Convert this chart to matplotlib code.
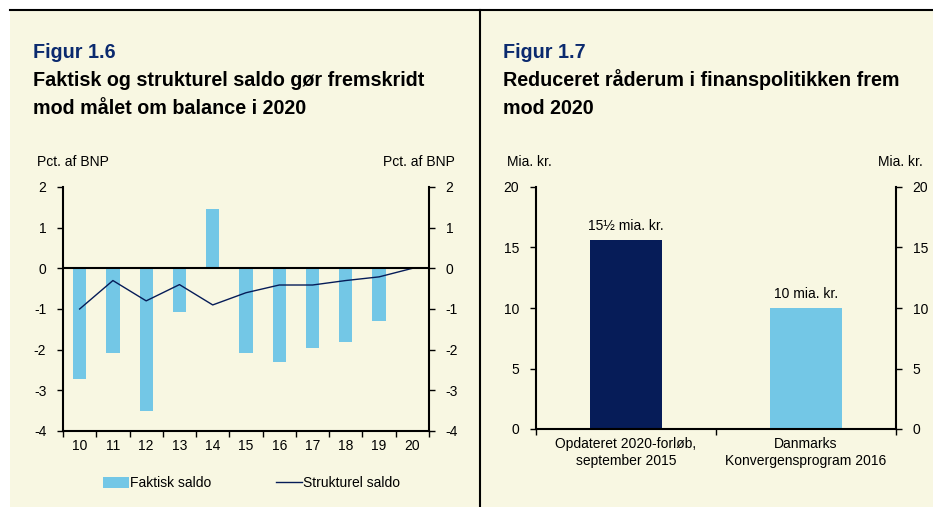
import numpy as np
import matplotlib.pyplot as plt
from matplotlib.patches import Rectangle
from matplotlib.lines import Line2D

plt.rcParams['font.family'] = ['Liberation Sans', 'DejaVu Sans']
plt.rcParams['axes.unicode_minus'] = False

# Figur 1.6
years = ["10", "11", "12", "13", "14", "15", "16", "17", "18", "19", "20"]
faktisk = [-2.73, -2.07, -3.52, -1.07, 1.46, -2.07, -2.30, -1.95, -1.80, -1.30, np.nan]
strukturel = [-1.0, -0.30, -0.80, -0.40, -0.90, -0.60, -0.41, -0.41, -0.30, -0.21, 0.0]

# Figur 1.7
kategorier = ["Opdateret 2020-forløb,\nseptember 2015", "Danmarks\nKonvergensprogram 2016"]
raaderum = [15.6, 10.0]
raaderum_tekst = ["15½ mia. kr.", "10 mia. kr."]

BG = "#f8f7e2"
LIGHT = "#73c7e6"
NAVY = "#061c58"
TITLE = "#0b2a6e"
FS = 10

W, H = 933, 507
fig = plt.figure(figsize=(W / 100, H / 100), dpi=100)
fig.patch.set_facecolor("white")


def px(x0, y0, x1, y1):
    # pixel box (top-left origin) -> figure fraction rect
    return [x0 / W, 1 - y1 / H, (x1 - x0) / W, (y1 - y0) / H]


fig.patches.append(Rectangle((10 / W, 0), 1 - 10 / W, 1 - 10 / H,
                             transform=fig.transFigure, facecolor=BG,
                             edgecolor="none", zorder=-10))
fig.lines.append(Line2D([10 / W, 1], [1 - 10 / H, 1 - 10 / H],
                        transform=fig.transFigure, color="black", lw=1.5, zorder=-5))
fig.lines.append(Line2D([480 / W, 480 / W], [0, 1 - 10 / H],
                        transform=fig.transFigure, color="black", lw=1.5, zorder=-5))

# titles
for x0, fig_no, lines in [(33, "Figur 1.6", ["Faktisk og strukturel saldo gør fremskridt",
                                              "mod målet om balance i 2020"]),
                          (503, "Figur 1.7", ["Reduceret råderum i finanspolitikken frem",
                                              "mod 2020"])]:
    fig.text(x0 / W, 1 - 58 / H, fig_no, color=TITLE, fontsize=14.2,
             fontweight="bold", va="baseline")
    for i, t in enumerate(lines):
        fig.text(x0 / W, 1 - (86 + i * 28) / H, t, color="black", fontsize=14.2,
                 fontweight="bold", va="baseline")


def style_axes(ax):
    ax.set_facecolor("none")
    ax.spines["top"].set_visible(False)
    for s in ["left", "right", "bottom"]:
        ax.spines[s].set_linewidth(1.5)
    ax.tick_params(axis="y", which="major", left=True, right=True,
                   labelleft=True, labelright=True, direction="out",
                   length=4, width=1, labelsize=FS, pad=8)


# ---- left chart
ax1 = fig.add_axes(px(63, 187, 429, 431))
style_axes(ax1)
pos = np.arange(len(years)) + 0.5
b1 = ax1.bar(pos, faktisk, width=0.4, color=LIGHT, label="Faktisk saldo", zorder=2)
l1, = ax1.plot(pos, strukturel, color=NAVY, lw=1, label="Strukturel saldo", zorder=3)
ax1.axhline(0, color="black", lw=1.5, zorder=4)
ax1.set_xlim(0, len(years))
ax1.set_ylim(-4, 2)
ax1.set_yticks(range(-4, 3))
ax1.set_xticks(np.arange(len(years) + 1))
ax1.set_xticklabels([])
ax1.set_xticks(pos, minor=True)
ax1.set_xticklabels(years, minor=True)
ax1.tick_params(axis="x", which="major", direction="out", length=4, width=1)
ax1.tick_params(axis="x", which="minor", length=0, labelsize=FS, pad=6)
fig.text(37 / W, 1 - 166 / H, "Pct. af BNP", fontsize=FS, va="baseline")
fig.text(455 / W, 1 - 166 / H, "Pct. af BNP", fontsize=FS, va="baseline", ha="right")
ax1.legend(handles=[b1, l1], loc="center", bbox_to_anchor=(0.515, -0.215), ncol=2,
           frameon=False, fontsize=FS, handlelength=1.9, handleheight=0.8,
           handletextpad=0.1, columnspacing=4.6, borderpad=0)

# ---- right chart
ax2 = fig.add_axes(px(536, 187, 896, 429))
style_axes(ax2)
pos2 = np.arange(len(kategorier)) + 0.5
bars = ax2.bar(pos2, raaderum, width=0.4, color=[NAVY, LIGHT], zorder=2)
for b, t in zip(bars, raaderum_tekst):
    ax2.annotate(t, (b.get_x() + b.get_width() / 2, b.get_height()),
                 xytext=(0, 5), textcoords="offset points", ha="center",
                 va="bottom", fontsize=FS)
ax2.set_xlim(0, len(kategorier))
ax2.set_ylim(0, 20)
ax2.set_yticks(range(0, 21, 5))
ax2.set_xticks(np.arange(len(kategorier) + 1))
ax2.set_xticklabels([])
ax2.set_xticks(pos2, minor=True)
ax2.set_xticklabels(kategorier, minor=True)
ax2.tick_params(axis="x", which="major", direction="out", length=4, width=1)
ax2.tick_params(axis="x", which="minor", length=0, labelsize=FS, pad=6)
fig.text(507 / W, 1 - 166 / H, "Mia. kr.", fontsize=FS, va="baseline")
fig.text(923 / W, 1 - 166 / H, "Mia. kr.", fontsize=FS, va="baseline", ha="right")

fig.savefig("out.png", dpi=100, facecolor=fig.get_facecolor())
